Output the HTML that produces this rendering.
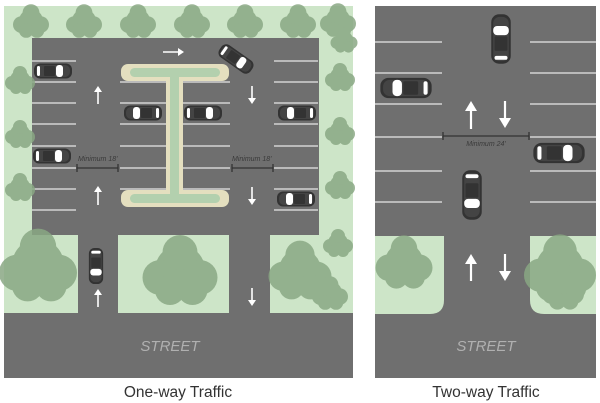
<!DOCTYPE html>
<html><head><meta charset="utf-8"><style>
html,body{margin:0;padding:0;background:#fff;width:600px;height:403px;overflow:hidden}
svg{display:block}
</style></head><body>
<svg width="600" height="403" viewBox="0 0 600 403" xmlns="http://www.w3.org/2000/svg" font-family="Liberation Sans, sans-serif">
<defs>
<g id="car">
<rect x="-19" y="-7.5" width="38" height="15" rx="6" fill="#333"/>
<rect x="-17" y="-6" width="34" height="12" rx="5" fill="#444"/>
<rect x="3" y="-6" width="7" height="12" rx="3" fill="#fff"/>
<rect x="-16" y="-5" width="3" height="10" rx="1.5" fill="#fff"/>
<rect x="-9" y="-5" width="11" height="10" rx="1" fill="#333"/>
</g>
<g id="tree">
<circle cx="0" cy="0" r="10"/><circle cx="-8" cy="3" r="7"/><circle cx="8" cy="3" r="7"/><circle cx="0" cy="-7" r="7"/><circle cx="-4" cy="8" r="6"/><circle cx="5" cy="8" r="6"/>
</g>
</defs>
<rect x="4" y="6" width="349" height="308" fill="#cde5c8"/>
<rect x="32" y="38" width="287" height="197" fill="#6f6f6f"/>
<rect x="78" y="230" width="40" height="90" fill="#6f6f6f"/>
<rect x="229" y="230" width="41" height="90" fill="#6f6f6f"/>
<path d="M4 235 H78 V300 Q78 314 64 314 H4Z" fill="#cde5c8"/>
<path d="M118 235 H229 V300 Q229 314 215 314 H132 Q118 314 118 300Z" fill="#cde5c8"/>
<path d="M270 235 H353 V314 H284 Q270 314 270 300Z" fill="#cde5c8"/>
<rect x="4" y="313" width="349" height="65" fill="#6f6f6f"/>
<g stroke="#e6e6e6" stroke-width="1.2">
<g id="rows">
<line x1="32" x2="76" y1="61" y2="61"/><line x1="32" x2="76" y1="82" y2="82"/><line x1="32" x2="76" y1="103" y2="103"/><line x1="32" x2="76" y1="124" y2="124"/><line x1="32" x2="76" y1="146" y2="146"/><line x1="32" x2="76" y1="168" y2="168"/><line x1="32" x2="76" y1="189" y2="189"/><line x1="32" x2="76" y1="210" y2="210"/>
</g>
<g transform="translate(242 0)"><use href="#rows"/></g>
<line x1="120" x2="166" y1="82" y2="82"/><line x1="120" x2="166" y1="103" y2="103"/><line x1="120" x2="166" y1="124" y2="124"/><line x1="120" x2="166" y1="146" y2="146"/><line x1="120" x2="166" y1="168" y2="168"/><line x1="120" x2="166" y1="189" y2="189"/>
<line x1="183" x2="230" y1="82" y2="82"/><line x1="183" x2="230" y1="103" y2="103"/><line x1="183" x2="230" y1="124" y2="124"/><line x1="183" x2="230" y1="146" y2="146"/><line x1="183" x2="230" y1="168" y2="168"/><line x1="183" x2="230" y1="189" y2="189"/>
</g>
<g fill="#e4dfbf">
<rect x="121" y="64" width="108" height="17" rx="7"/>
<rect x="121" y="190" width="108" height="17" rx="7"/>
<rect x="166" y="76" width="17" height="120"/>
</g>
<g fill="#b3d0ae">
<rect x="130" y="68" width="90" height="9" rx="4.5"/>
<rect x="130" y="194" width="90" height="9" rx="4.5"/>
<rect x="170" y="76" width="9" height="120"/>
</g>
<use href="#car" transform="translate(53 71)"/>
<use href="#car" transform="translate(52 156)"/>
<use href="#car" transform="translate(143 113) rotate(180)"/>
<use href="#car" transform="translate(203 113)"/>
<use href="#car" transform="translate(297 113) rotate(180)"/>
<use href="#car" transform="translate(296 199) rotate(180)"/>
<use href="#car" transform="translate(236 59) rotate(35)"/>
<use href="#car" transform="translate(96 266) rotate(90) scale(0.95)"/>
<g stroke="#fff" stroke-width="1.6" fill="#fff">
<line x1="98" y1="104" x2="98" y2="90"/><path d="M94 92 L98 86 L102 92Z" stroke="none"/>
<line x1="98" y1="205" x2="98" y2="190"/><path d="M94 192 L98 186 L102 192Z" stroke="none"/>
<line x1="98" y1="307" x2="98" y2="293"/><path d="M94 295 L98 289 L102 295Z" stroke="none"/>
<line x1="252" y1="86" x2="252" y2="100"/><path d="M248 98 L252 104 L256 98Z" stroke="none"/>
<line x1="252" y1="187" x2="252" y2="201"/><path d="M248 199 L252 205 L256 199Z" stroke="none"/>
<line x1="252" y1="288" x2="252" y2="302"/><path d="M248 300 L252 306 L256 300Z" stroke="none"/>
<line x1="163" y1="52" x2="180" y2="52"/><path d="M178 48 L184 52 L178 56Z" stroke="none"/>
</g>
<g stroke="#333" stroke-width="1.3">
<line x1="77" y1="168" x2="118" y2="168"/><line x1="77" y1="164" x2="77" y2="172"/><line x1="118" y1="164" x2="118" y2="172"/>
<line x1="232" y1="168" x2="273" y2="168"/><line x1="232" y1="164" x2="232" y2="172"/><line x1="273" y1="164" x2="273" y2="172"/>
</g>
<g font-size="7" font-style="italic" fill="#3a3a3a">
<text x="78" y="161">Minimum 18'</text><text x="232" y="161">Minimum 18'</text>
</g>
<g fill="#8aa884" opacity="0.85">
<use href="#tree" transform="translate(31 21) scale(1.2)"/>
<use href="#tree" transform="translate(84 21) scale(1.2)"/>
<use href="#tree" transform="translate(138 21) scale(1.2)"/>
<use href="#tree" transform="translate(192 21) scale(1.2)"/>
<use href="#tree" transform="translate(245 21) scale(1.2)"/>
<use href="#tree" transform="translate(298 21) scale(1.2)"/>
<use href="#tree" transform="translate(338 20) scale(1.2)"/>
<use href="#tree" transform="translate(344 40) scale(0.9)"/>
<use href="#tree" transform="translate(20 80)"/>
<use href="#tree" transform="translate(20 134)"/>
<use href="#tree" transform="translate(20 187)"/>
<use href="#tree" transform="translate(340 77)"/>
<use href="#tree" transform="translate(340 131)"/>
<use href="#tree" transform="translate(340 185)"/>
<use href="#tree" transform="translate(38 265) scale(2.6)"/>
<use href="#tree" transform="translate(180 270) scale(2.5)"/>
<use href="#tree" transform="translate(300 270) scale(2.1)"/>
<use href="#tree" transform="translate(330 293) scale(1.2)"/>
<use href="#tree" transform="translate(338 243) scale(1)"/>
</g>
<text x="170" y="351" font-size="15" font-style="italic" fill="#b0b0b0" text-anchor="middle">STREET</text>
<text x="178" y="397" font-size="15.5" fill="#333" text-anchor="middle">One-way Traffic</text>
<rect x="375" y="6" width="221" height="372" fill="#6f6f6f"/>
<path d="M375 236 H444 V300 Q444 314 430 314 H375Z" fill="#cde5c8"/>
<path d="M530 236 H596 V314 H544 Q530 314 530 300Z" fill="#cde5c8"/>
<g fill="#8aa884" opacity="0.85">
<use href="#tree" transform="translate(404 262) scale(1.9)"/>
<use href="#tree" transform="translate(560 268) scale(2.4)"/>
<use href="#tree" transform="translate(563 290) scale(1.4)"/>
</g>
<g stroke="#e6e6e6" stroke-width="1.2">
<line x1="375" x2="442" y1="42" y2="42"/><line x1="375" x2="442" y1="73" y2="73"/><line x1="375" x2="442" y1="104" y2="104"/><line x1="375" x2="442" y1="137" y2="137"/><line x1="375" x2="442" y1="171" y2="171"/><line x1="375" x2="442" y1="202" y2="202"/>
<line x1="530" x2="596" y1="42" y2="42"/><line x1="530" x2="596" y1="73" y2="73"/><line x1="530" x2="596" y1="104" y2="104"/><line x1="530" x2="596" y1="137" y2="137"/><line x1="530" x2="596" y1="171" y2="171"/><line x1="530" x2="596" y1="202" y2="202"/>
</g>
<use href="#car" transform="translate(501 39) rotate(-90) scale(1.3)"/>
<use href="#car" transform="translate(406 88) rotate(180) scale(1.35)"/>
<use href="#car" transform="translate(559 153) scale(1.35)"/>
<use href="#car" transform="translate(472 195) rotate(90) scale(1.3)"/>
<g stroke="#fff" stroke-width="2.2" fill="#fff">
<line x1="471" y1="129" x2="471" y2="108"/><path d="M465 111 L471 101 L477 111Z" stroke="none"/>
<line x1="505" y1="101" x2="505" y2="120"/><path d="M499 118 L505 128 L511 118Z" stroke="none"/>
<line x1="471" y1="281" x2="471" y2="261"/><path d="M465 264 L471 254 L477 264Z" stroke="none"/>
<line x1="505" y1="254" x2="505" y2="273"/><path d="M499 271 L505 281 L511 271Z" stroke="none"/>
</g>
<g stroke="#333" stroke-width="1.3">
<line x1="443" y1="136" x2="529" y2="136"/><line x1="443" y1="132" x2="443" y2="140"/><line x1="529" y1="132" x2="529" y2="140"/>
</g>
<text x="486" y="146" font-size="7" font-style="italic" fill="#3a3a3a" text-anchor="middle">Minimum 24'</text>
<text x="486" y="351" font-size="15" font-style="italic" fill="#b0b0b0" text-anchor="middle">STREET</text>
<text x="486" y="397" font-size="15.5" fill="#333" text-anchor="middle">Two-way Traffic</text>
</svg>
</body></html>
